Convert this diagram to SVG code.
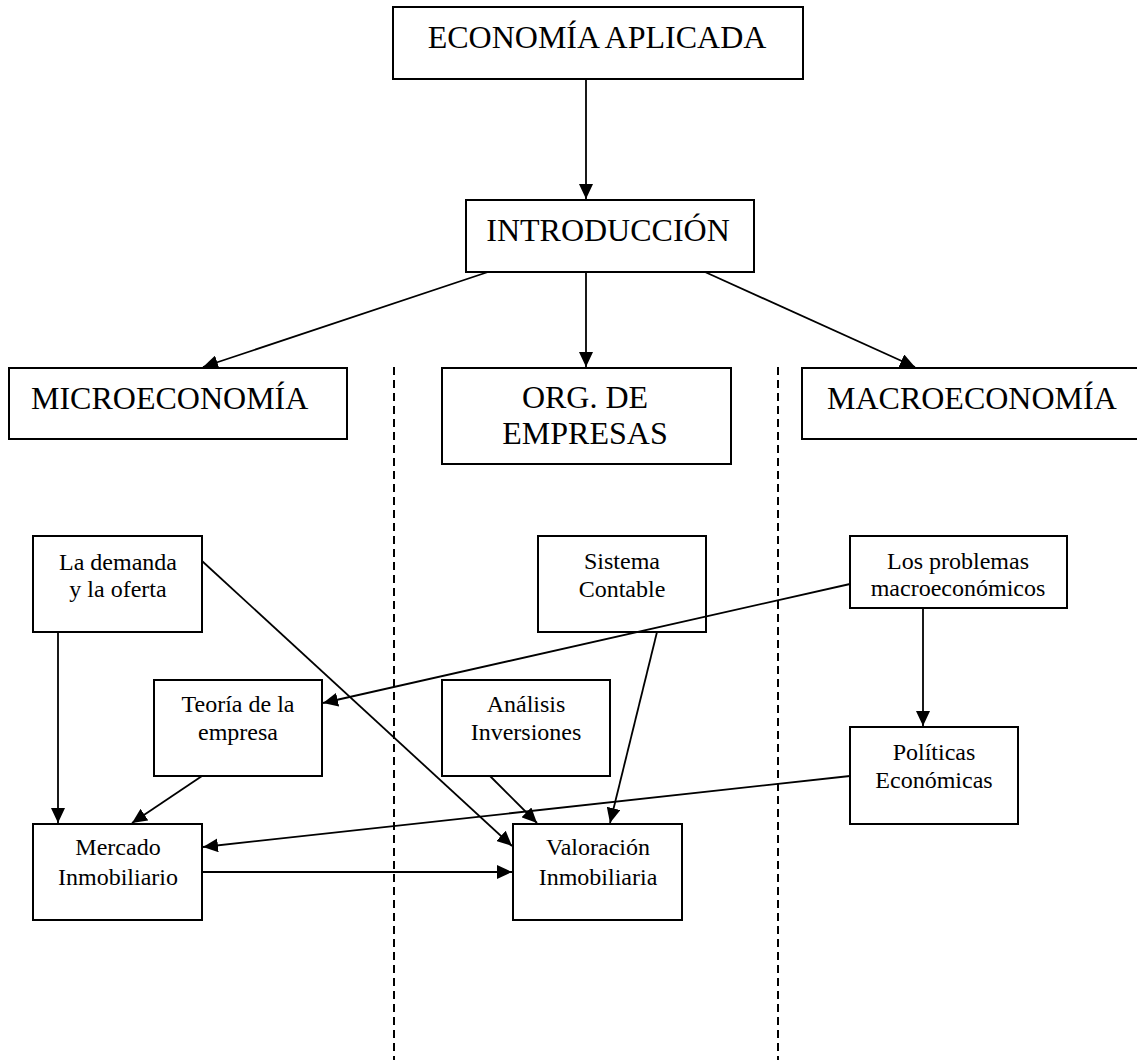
<svg xmlns="http://www.w3.org/2000/svg" width="1137" height="1060" viewBox="0 0 1137 1060">
<style>
.box{fill:#fff;stroke:#000;stroke-width:2}
.big{font-family:"Liberation Serif","Times New Roman",serif;font-size:32px;fill:#000}
.sm{font-family:"Liberation Serif","Times New Roman",serif;font-size:24px;fill:#000;text-anchor:middle}
.c{text-anchor:middle}
.con line{stroke:#000;stroke-width:1.8;fill:none}
.arr{marker-end:url(#ah)}
.dash{stroke:#000;stroke-width:2;stroke-dasharray:8 5}
</style>
<defs>
<marker id="ah" markerUnits="userSpaceOnUse" viewBox="0 0 15 14" refX="15" refY="7" markerWidth="15" markerHeight="14" orient="auto">
<path d="M0,0 L15,7 L0,14 z" fill="#000"/>
</marker>
</defs>
<rect width="1137" height="1060" fill="#fff"/>
<g id="dividers">
<line class="dash" x1="394" y1="367" x2="394" y2="1060"/>
<line class="dash" x1="778" y1="367" x2="778" y2="1060"/>
</g>
<g id="n-economia"><rect class="box" x="393" y="7" width="410" height="72"/><text class="big c" x="597" y="48">ECONOMÍA APLICADA</text></g>
<g id="n-intro"><rect class="box" x="466" y="200" width="288" height="72"/><text class="big c" x="608" y="241">INTRODUCCIÓN</text></g>
<g id="n-micro"><rect class="box" x="9" y="368" width="338" height="71"/><text class="big" x="31" y="409">MICROECONOMÍA</text></g>
<g id="n-org"><rect class="box" x="442" y="368" width="289" height="96"/><text class="big c" x="585" y="408">ORG. DE</text><text class="big c" x="585" y="444">EMPRESAS</text></g>
<g id="n-macro"><rect class="box" x="802" y="368" width="336" height="71"/><text class="big" x="827" y="409">MACROECONOMÍA</text></g>
<g id="n-demanda"><rect class="box" x="33" y="536" width="169" height="96"/><text class="sm" x="118" y="570">La demanda</text><text class="sm" x="118" y="597">y la oferta</text></g>
<g id="n-sistema"><rect class="box" x="538" y="536" width="168" height="96"/><text class="sm" x="622" y="569">Sistema</text><text class="sm" x="622" y="597">Contable</text></g>
<g id="n-problemas"><rect class="box" x="850" y="536" width="217" height="72"/><text class="sm" x="958" y="569">Los problemas</text><text class="sm" x="958" y="596">macroeconómicos</text></g>
<g id="n-teoria"><rect class="box" x="154" y="680" width="168" height="96"/><text class="sm" x="238" y="712">Teoría de la</text><text class="sm" x="238" y="740">empresa</text></g>
<g id="n-analisis"><rect class="box" x="442" y="680" width="168" height="96"/><text class="sm" x="526" y="712">Análisis</text><text class="sm" x="526" y="740">Inversiones</text></g>
<g id="n-politicas"><rect class="box" x="850" y="727" width="168" height="97"/><text class="sm" x="934" y="760">Políticas</text><text class="sm" x="934" y="788">Económicas</text></g>
<g id="n-mercado"><rect class="box" x="33" y="824" width="169" height="96"/><text class="sm" x="118" y="855">Mercado</text><text class="sm" x="118" y="885">Inmobiliario</text></g>
<g id="n-valoracion"><rect class="box" x="513" y="824" width="169" height="96"/><text class="sm" x="598" y="855">Valoración</text><text class="sm" x="598" y="885">Inmobiliaria</text></g>
<g id="connectors" class="con">
<line class="arr" x1="586" y1="79" x2="586" y2="199"/>
<line class="arr" x1="488" y1="272" x2="203" y2="367"/>
<line class="arr" x1="586" y1="272" x2="586" y2="367"/>
<line class="arr" x1="705" y1="272" x2="915" y2="367"/>
<line class="arr" x1="58" y1="632" x2="58" y2="823"/>
<line class="arr" x1="202" y1="561" x2="512" y2="846"/>
<line class="arr" x1="850" y1="584" x2="323" y2="703"/>
<line class="arr" x1="923" y1="608" x2="923" y2="726"/>
<line class="arr" x1="202" y1="776" x2="132" y2="823"/>
<line class="arr" x1="850" y1="776" x2="203" y2="847"/>
<line class="arr" x1="490" y1="776" x2="537" y2="823"/>
<line class="arr" x1="657" y1="632" x2="610" y2="823"/>
<line class="arr" x1="202" y1="872" x2="512" y2="872"/>
</g>
</svg>
